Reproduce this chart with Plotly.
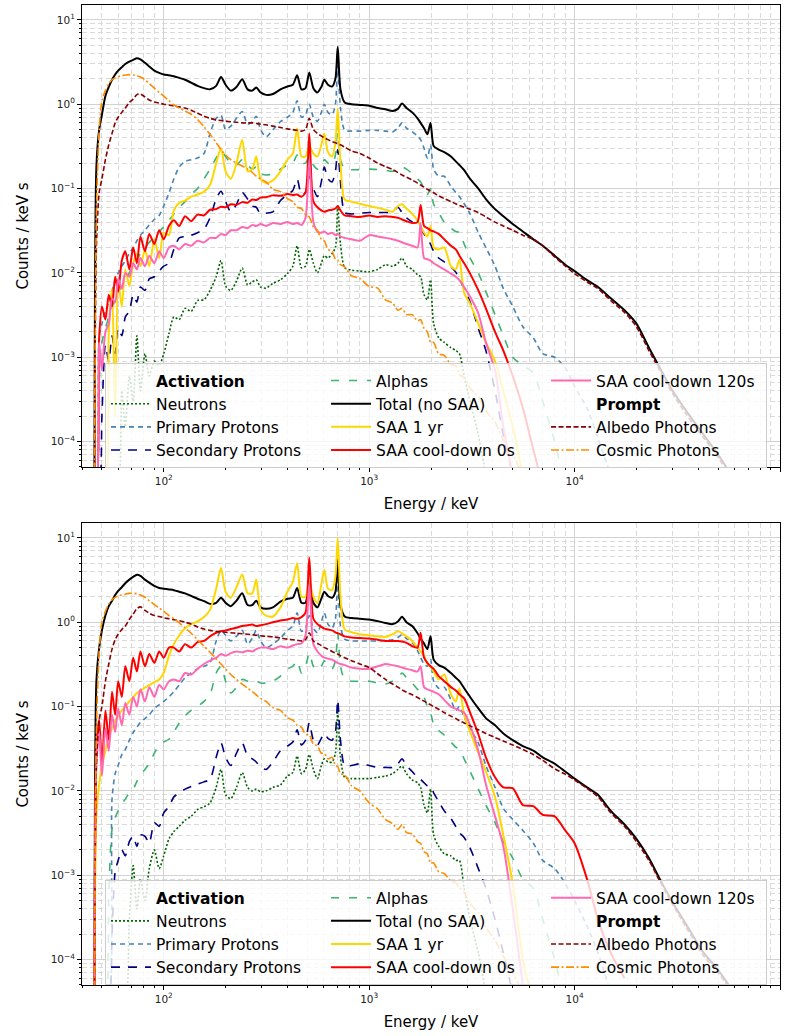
import math
import plotly.graph_objects as go

# ---------------------------------------------------------------------------
# Shared energy grid (keV)
# ---------------------------------------------------------------------------
energy_kev = [
    46, 47, 48.5, 50, 52, 54, 56, 58, 60, 62.5,
    65, 68, 71, 74, 77, 81, 85, 90, 95, 100,
    106, 112, 119, 127, 136, 146, 157, 168, 180, 190,
    200, 212, 226, 241, 256, 270, 282, 296, 315, 340,
    370, 400, 425, 446, 468, 490, 511, 535, 560, 585,
    605, 630, 660, 685, 703, 725, 760, 820, 900, 1000,
    1100, 1200, 1300, 1380, 1445, 1520, 1620, 1720, 1780, 1850,
    1920, 1990, 2060, 2180, 2320, 2500, 2640, 2750, 2900, 3100,
    3400, 3700, 4100, 4500, 5000, 5600, 6300, 7000, 8000, 9000,
    10000, 11500, 13000, 15000, 17500, 20000, 23000, 26000, 30000, 35000,
    42000, 50000, 60000, 70000,
]

# ---------------------------------------------------------------------------
# Upper panel spectra (counts / keV s)
# ---------------------------------------------------------------------------
top_total = [
    3e-5, 0.18, 0.5, 0.75, 1.25, 1.6, 1.95, 2.25, 2.5, 2.75,
    3.0, 3.2, 3.35, 3.5, 3.4, 3.1, 2.8, 2.5, 2.35, 2.25,
    2.2, 2.15, 2.05, 1.95, 1.8, 1.65, 1.55, 1.5, 1.65, 2.1,
    1.7, 1.45, 1.6, 1.98, 1.5, 1.45, 1.58, 1.38, 1.29, 1.32,
    1.5, 1.62, 1.7, 2.2, 1.5, 1.55, 2.38, 1.55, 1.38, 1.6,
    1.95, 1.7, 1.62, 2.0, 4.8, 1.5, 1.05, 1.0, 0.98, 0.96,
    0.9, 0.87, 0.83, 0.88, 1.02, 0.9, 0.8, 0.68, 0.6, 0.52,
    0.44, 0.6, 0.32, 0.29, 0.27, 0.24, 0.21, 0.19, 0.165, 0.13,
    0.1, 0.075, 0.057, 0.047, 0.038, 0.031, 0.025, 0.021, 0.016, 0.0125,
    0.0105, 0.0082, 0.0068, 0.005, 0.0036, 0.0025, 0.0013, 7.5e-4, 4e-4, 2.3e-4,
    1.25e-4, 7e-5, 3.5e-5,
]
top_albedo = [
    3e-5, 0.02, 0.09, 0.13, 0.22, 0.33, 0.45, 0.6, 0.7, 0.8,
    0.9, 1.05, 1.15, 1.3, 1.32, 1.22, 1.12, 1.06, 1.03, 1.0,
    0.98, 0.95, 0.93, 0.9, 0.85, 0.78, 0.72, 0.68, 0.65, 0.64,
    0.63, 0.62, 0.61, 0.6, 0.6, 0.6, 0.59, 0.58, 0.57, 0.55,
    0.53, 0.51, 0.5, 0.49, 0.48, 0.5, 0.68, 0.5, 0.45, 0.42,
    0.4, 0.38, 0.36, 0.35, 0.34, 0.33, 0.31, 0.28, 0.26, 0.23,
    0.2, 0.182, 0.168, 0.155, 0.145, 0.136, 0.126, 0.116, 0.11, 0.104,
    0.098, 0.093, 0.089, 0.082, 0.076, 0.07, 0.066, 0.063, 0.06, 0.057,
    0.052, 0.046, 0.04, 0.036, 0.032, 0.028, 0.025, 0.021, 0.0155, 0.0121,
    0.0098, 0.0078, 0.0065, 0.0047, 0.0034, 0.0023, 0.0012, 7e-4, 3.7e-4, 2.1e-4,
    1.15e-4, 6.5e-5, 3.2e-5,
]
top_cosmic = [
    3e-5, 0.05, 0.5, 1.1, 1.45, 1.75, 1.95, 2.05, 2.12, 2.18,
    2.22, 2.24, 2.22, 2.18, 2.1, 1.95, 1.75, 1.55, 1.38, 1.25,
    1.1, 0.98, 0.9, 0.83, 0.76, 0.66, 0.54, 0.44, 0.35, 0.29,
    0.25, 0.22, 0.2, 0.185, 0.17, 0.155, 0.14, 0.13, 0.12, 0.098,
    0.092, 0.076, 0.07, 0.06, 0.058, 0.049, 0.046, 0.035, 0.032, 0.025,
    0.024, 0.019, 0.018, 0.0145, 0.0142, 0.0125, 0.0118, 0.0092, 0.0086, 0.0069,
    0.0066, 0.0048, 0.0044, 0.0036, 0.0038, 0.0032, 0.0032, 0.0027, 0.0028, 0.0022,
    0.002, 0.0015, 0.0015, 0.0011, 0.00105, 8.2e-4, 7.9e-4, 6.2e-4, 5.7e-4, 4.3e-4,
    3.4e-4, 2.3e-4, 1.7e-4, 1.05e-4, 7e-5, 4e-5,
]
top_primary = [
    3e-5, 3e-5, 0.0018, 0.0025, 0.0035, 0.0045, 0.006, 0.0083, 0.01, 0.012,
    0.014, 0.017, 0.02, 0.024, 0.028, 0.032, 0.037, 0.043, 0.048, 0.062,
    0.088, 0.13, 0.18, 0.21, 0.22, 0.23, 0.26, 0.45, 0.68, 0.74,
    0.5, 0.55, 0.68, 0.82, 0.58, 0.62, 0.72, 0.5, 0.41, 0.5,
    0.62, 0.7, 0.8, 1.1, 0.7, 0.75, 1.0, 0.7, 0.63, 0.8,
    1.0, 0.8, 0.75, 1.0, 2.9, 0.9, 0.49, 0.48, 0.48, 0.49,
    0.49, 0.48, 0.47, 0.52, 0.6, 0.52, 0.47, 0.42, 0.38, 0.3,
    0.23, 0.33, 0.17, 0.14, 0.14, 0.106, 0.09, 0.08, 0.066, 0.05,
    0.03, 0.02, 0.012, 0.0065, 0.004, 0.0023, 0.0017, 0.0011, 0.001, 7.5e-4,
    4.5e-4, 2.5e-4, 1.1e-4, 4e-5,
]
top_alphas = [
    3e-5, 3e-5, 5e-4, 0.0015, 0.0022, 0.003, 0.0038, 0.0048, 0.0058, 0.007,
    0.0082, 0.01, 0.012, 0.014, 0.017, 0.02, 0.023, 0.027, 0.031, 0.035,
    0.042, 0.05, 0.06, 0.07, 0.085, 0.1, 0.13, 0.17, 0.23, 0.28,
    0.24, 0.2, 0.19, 0.22, 0.19, 0.17, 0.18, 0.15, 0.145, 0.15,
    0.17, 0.19, 0.2, 0.25, 0.2, 0.2, 0.24, 0.19, 0.17, 0.18,
    0.22, 0.2, 0.19, 0.25, 0.6, 0.22, 0.17, 0.167, 0.168, 0.17,
    0.168, 0.165, 0.16, 0.17, 0.18, 0.17, 0.15, 0.13, 0.12, 0.1,
    0.085, 0.1, 0.065, 0.052, 0.04, 0.034, 0.031, 0.03, 0.022, 0.015,
    0.01, 0.006, 0.0032, 0.0018, 0.001, 8e-4, 6.5e-4, 3e-4, 1e-4, 3e-5,
]
top_secondary = [
    3e-5, 3e-5, 3e-5, 2e-4, 0.0014, 0.0009, 0.0018, 0.0011, 0.0022, 0.0018,
    0.003, 0.0035, 0.0055, 0.0045, 0.0068, 0.0062, 0.0085, 0.009, 0.0105, 0.012,
    0.013, 0.019, 0.026, 0.027, 0.028, 0.03, 0.033, 0.045, 0.075, 0.093,
    0.07, 0.053, 0.065, 0.09, 0.075, 0.062, 0.06, 0.05, 0.051, 0.053,
    0.072, 0.085, 0.095, 0.13, 0.085, 0.09, 0.14, 0.1, 0.08, 0.12,
    0.18, 0.13, 0.12, 0.16, 0.29, 0.12, 0.052, 0.05, 0.051, 0.052,
    0.052, 0.052, 0.053, 0.06, 0.052, 0.045, 0.04, 0.035, 0.032, 0.029,
    0.025, 0.022, 0.018, 0.015, 0.0135, 0.0118, 0.0102, 0.0085, 0.0065, 0.0045,
    0.0022, 0.0012, 4e-4, 1.2e-4, 4e-5,
]
top_neutrons = [
    3e-5, 3e-5, 3e-5, 3e-5, 3e-5, 3e-5, 3e-5, 3e-5, 3e-5, 4e-4,
    1.5e-4, 6e-4, 3e-4, 0.0018, 4e-4, 0.0011, 0.0006, 0.0009, 0.0008, 0.0011,
    0.0019, 0.003, 0.0028, 0.0038, 0.0035, 0.0047, 0.0048, 0.0062, 0.009, 0.014,
    0.007, 0.0062, 0.008, 0.0114, 0.0072, 0.0078, 0.0083, 0.0068, 0.0066, 0.0075,
    0.0083, 0.0098, 0.012, 0.021, 0.0115, 0.012, 0.019, 0.013, 0.01, 0.013,
    0.016, 0.015, 0.017, 0.02, 0.062, 0.022, 0.0115, 0.0108, 0.0105, 0.0103,
    0.011, 0.0125, 0.012, 0.013, 0.015, 0.012, 0.011, 0.0095, 0.009, 0.0055,
    0.0048, 0.0083, 0.0025, 0.0017, 0.0015, 0.0013, 0.0012, 0.0011, 6e-4, 3e-4,
    1.2e-4, 4e-5,
]
top_saa_1yr = [
    3e-5, 3e-5, 3e-5, 3e-5, 3e-5, 0.002, 0.0065, 2e-4, 0.008, 0.004,
    0.011, 0.007, 0.013, 0.017, 0.012, 0.019, 0.012, 0.025, 0.015, 0.03,
    0.028, 0.055, 0.068, 0.072, 0.08, 0.085, 0.092, 0.11, 0.2, 0.3,
    0.16, 0.13, 0.2, 0.38, 0.16, 0.17, 0.24, 0.13, 0.116, 0.125,
    0.16, 0.22, 0.26, 0.52, 0.24, 0.24, 0.32, 0.26, 0.24, 0.33,
    0.45, 0.27, 0.24, 0.35, 0.89, 0.2, 0.074, 0.07, 0.066, 0.062,
    0.059, 0.056, 0.053, 0.062, 0.065, 0.058, 0.05, 0.042, 0.036, 0.03,
    0.027, 0.036, 0.02, 0.019, 0.02, 0.012, 0.011, 0.0143, 0.0058, 0.0043,
    0.0025, 0.0015, 9e-4, 4e-4, 1.5e-4, 4e-5,
]
top_saa_0s = [
    3e-5, 3e-5, 0.0017, 0.004, 0.0028, 0.0055, 0.004, 0.009, 0.006, 0.014,
    0.018, 0.011, 0.02, 0.013, 0.027, 0.018, 0.029, 0.022, 0.032, 0.025,
    0.036, 0.042, 0.036, 0.047, 0.041, 0.049, 0.048, 0.056, 0.057, 0.061,
    0.06, 0.065, 0.064, 0.069, 0.068, 0.074, 0.073, 0.078, 0.079, 0.083,
    0.082, 0.086, 0.084, 0.085, 0.08, 0.09, 0.45, 0.07, 0.06, 0.055,
    0.053, 0.055, 0.056, 0.058, 0.062, 0.055, 0.048, 0.047, 0.046, 0.048,
    0.046, 0.047, 0.046, 0.045, 0.043, 0.041, 0.039, 0.04, 0.064, 0.036,
    0.034, 0.032, 0.031, 0.029, 0.025, 0.021, 0.019, 0.016, 0.013, 0.0098,
    0.0062, 0.0038, 0.002, 0.0012, 6e-4, 2.5e-4, 8e-5, 3e-5,
]
top_saa_120s = [
    3e-5, 3e-5, 0.0015, 0.0007, 0.002, 0.0025, 0.005, 0.0045, 0.0085, 0.0065,
    0.01, 0.009, 0.013, 0.011, 0.015, 0.012, 0.016, 0.013, 0.018, 0.015,
    0.02, 0.021, 0.019, 0.022, 0.021, 0.024, 0.023, 0.026, 0.026, 0.029,
    0.028, 0.032, 0.032, 0.035, 0.034, 0.037, 0.036, 0.038, 0.036, 0.039,
    0.038, 0.04, 0.038, 0.039, 0.037, 0.045, 0.22, 0.04, 0.031, 0.03,
    0.031, 0.029, 0.03, 0.028, 0.029, 0.027, 0.026, 0.025, 0.024, 0.028,
    0.027, 0.026, 0.025, 0.024, 0.023, 0.022, 0.021, 0.02, 0.039, 0.015,
    0.0145, 0.014, 0.013, 0.012, 0.011, 0.0098, 0.009, 0.0082, 0.0068, 0.0052,
    0.0033, 0.0015, 7e-4, 1.5e-4, 4e-5,
]

# ---------------------------------------------------------------------------
# Lower panel spectra (counts / keV s)
# ---------------------------------------------------------------------------
bot_total = [
    3e-5, 0.2, 0.5, 0.8, 1.2, 1.55, 1.8, 2.1, 2.35, 2.6,
    2.9, 3.2, 3.45, 3.65, 3.55, 3.2, 2.95, 2.7, 2.55, 2.5,
    2.45, 2.4, 2.3, 2.2, 2.05, 1.9, 1.78, 1.65, 1.7, 1.95,
    1.7, 1.55, 1.8, 2.2, 1.6, 1.6, 1.8, 1.5, 1.44, 1.5,
    1.75, 1.9, 1.95, 2.55, 1.7, 1.7, 2.65, 1.7, 1.5, 1.9,
    2.3, 2.05, 1.95, 2.3, 5.5, 1.6, 1.17, 1.12, 1.1, 1.08,
    1.03, 0.98, 0.95, 1.02, 1.16, 1.0, 0.9, 0.74, 0.64, 0.56,
    0.48, 0.68, 0.36, 0.31, 0.29, 0.25, 0.22, 0.2, 0.165, 0.13,
    0.095, 0.073, 0.06, 0.048, 0.04, 0.034, 0.03, 0.025, 0.021, 0.017,
    0.014, 0.011, 0.009, 0.0058, 0.004, 0.0027, 0.0016, 9e-4, 4.8e-4, 2.6e-4,
    1.25e-4, 7.5e-5, 4e-5,
]
bot_albedo = [
    3e-5, 0.02, 0.07, 0.1, 0.2, 0.32, 0.48, 0.62, 0.72, 0.82,
    0.9, 1.08, 1.25, 1.45, 1.52, 1.38, 1.28, 1.2, 1.17, 1.13,
    1.1, 1.07, 1.04, 1.0, 0.95, 0.88, 0.83, 0.8, 0.78, 0.77,
    0.76, 0.75, 0.74, 0.73, 0.72, 0.71, 0.7, 0.69, 0.68, 0.67,
    0.65, 0.63, 0.62, 0.61, 0.6, 0.62, 0.75, 0.6, 0.56, 0.53,
    0.5, 0.48, 0.45, 0.43, 0.42, 0.4, 0.38, 0.35, 0.32, 0.29,
    0.245, 0.21, 0.185, 0.17, 0.158, 0.148, 0.138, 0.128, 0.122, 0.116,
    0.11, 0.105, 0.1, 0.093, 0.085, 0.077, 0.072, 0.068, 0.064, 0.059,
    0.053, 0.048, 0.043, 0.039, 0.035, 0.031, 0.027, 0.023, 0.0183, 0.0158,
    0.0135, 0.0107, 0.0085, 0.0055, 0.0038, 0.0025, 0.0015, 8.5e-4, 4.5e-4, 2.4e-4,
    1.15e-4, 7e-5, 3.7e-5,
]
bot_cosmic = [
    3e-5, 0.05, 0.45, 1.0, 1.35, 1.65, 1.85, 1.97, 2.05, 2.1,
    2.15, 2.2, 2.2, 2.18, 2.1, 1.98, 1.8, 1.62, 1.48, 1.35,
    1.2, 1.1, 0.98, 0.86, 0.74, 0.62, 0.52, 0.44, 0.37, 0.32,
    0.28, 0.24, 0.21, 0.185, 0.165, 0.15, 0.138, 0.125, 0.115, 0.097,
    0.09, 0.074, 0.069, 0.06, 0.057, 0.047, 0.046, 0.036, 0.034, 0.028,
    0.028, 0.024, 0.025, 0.02, 0.0195, 0.016, 0.0155, 0.0115, 0.01, 0.0072,
    0.0061, 0.0046, 0.0041, 0.0035, 0.004, 0.0032, 0.0031, 0.0025, 0.0024, 0.0019,
    0.0018, 0.0014, 0.0014, 0.0011, 0.00105, 8.5e-4, 8.2e-4, 7.2e-4, 6.2e-4, 4.6e-4,
    3.6e-4, 2.4e-4, 1.7e-4, 1.1e-4, 7e-5, 4e-5,
]
bot_primary = [
    3e-5, 3e-5, 3e-5, 3e-5, 3e-5, 3e-5, 0.008, 0.016, 0.02, 0.027,
    0.031, 0.04, 0.049, 0.057, 0.065, 0.072, 0.08, 0.095, 0.105, 0.115,
    0.13, 0.15, 0.18, 0.22, 0.25, 0.28, 0.3, 0.33, 0.6, 0.8,
    0.7, 0.6, 0.68, 0.8, 0.55, 0.65, 0.8, 0.6, 0.5, 0.55,
    0.65, 0.8, 0.9, 1.29, 0.78, 0.85, 1.2, 0.85, 0.75, 1.0,
    1.29, 0.95, 0.85, 1.1, 3.2, 0.9, 0.63, 0.6, 0.6, 0.6,
    0.6, 0.61, 0.62, 0.66, 0.71, 0.64, 0.57, 0.46, 0.38, 0.32,
    0.3, 0.36, 0.2, 0.165, 0.17, 0.12, 0.09, 0.1, 0.075, 0.055,
    0.037, 0.02, 0.011, 0.0062, 0.0046, 0.0034, 0.0024, 0.0015, 0.0012, 8e-4,
    5e-4, 2.5e-4, 1.2e-4, 4e-5,
]
bot_alphas = [
    3e-5, 3e-5, 3e-5, 3e-5, 3e-5, 6e-4, 0.0035, 0.0048, 0.0058, 0.007,
    0.008, 0.0095, 0.0105, 0.013, 0.0155, 0.018, 0.021, 0.028, 0.035, 0.038,
    0.041, 0.05, 0.064, 0.078, 0.09, 0.1, 0.115, 0.14, 0.25, 0.3,
    0.2, 0.145, 0.17, 0.21, 0.2, 0.19, 0.2, 0.19, 0.19, 0.2,
    0.23, 0.28, 0.3, 0.35, 0.25, 0.3, 0.43, 0.3, 0.27, 0.3,
    0.35, 0.3, 0.28, 0.35, 0.75, 0.3, 0.21, 0.2, 0.2, 0.2,
    0.19, 0.185, 0.2, 0.22, 0.25, 0.22, 0.19, 0.16, 0.15, 0.13,
    0.1, 0.085, 0.061, 0.052, 0.046, 0.038, 0.033, 0.031, 0.024, 0.017,
    0.0105, 0.0068, 0.0042, 0.0025, 0.0016, 9e-4, 7e-4, 3e-4, 1e-4, 3e-5,
]
bot_secondary = [
    3e-5, 3e-5, 3e-5, 3e-5, 3e-5, 3e-5, 2e-4, 0.0011, 0.0015, 0.002,
    0.0017, 0.0025, 0.0029, 0.0022, 0.003, 0.0029, 0.0024, 0.0042, 0.0038, 0.0055,
    0.0065, 0.0085, 0.0095, 0.0105, 0.0113, 0.012, 0.0128, 0.0137, 0.025, 0.037,
    0.025, 0.02, 0.028, 0.037, 0.026, 0.024, 0.022, 0.019, 0.018, 0.022,
    0.03, 0.034, 0.038, 0.053, 0.035, 0.04, 0.064, 0.04, 0.035, 0.042,
    0.048, 0.042, 0.04, 0.05, 0.12, 0.04, 0.02, 0.02, 0.021, 0.02,
    0.019, 0.019, 0.019, 0.021, 0.024, 0.02, 0.017, 0.0145, 0.0137, 0.0125,
    0.0115, 0.0113, 0.0095, 0.0075, 0.0058, 0.0047, 0.0038, 0.0032, 0.0028, 0.0021,
    0.0012, 7e-4, 3e-4, 1.2e-4, 4e-5,
]
bot_neutrons = [
    3e-5, 3e-5, 3e-5, 3e-5, 3e-5, 3e-5, 3e-5, 3e-5, 3e-5, 3e-5,
    3e-5, 3e-4, 0.0013, 4e-4, 9e-4, 5e-4, 0.0012, 0.002, 0.0012, 0.0017,
    0.0027, 0.0033, 0.0038, 0.0045, 0.005, 0.006, 0.0065, 0.0072, 0.011, 0.018,
    0.009, 0.0081, 0.011, 0.0165, 0.011, 0.01, 0.0105, 0.0098, 0.01, 0.011,
    0.0118, 0.015, 0.0165, 0.026, 0.016, 0.018, 0.027, 0.018, 0.014, 0.02,
    0.024, 0.022, 0.022, 0.028, 0.085, 0.025, 0.0145, 0.014, 0.014, 0.014,
    0.0145, 0.015, 0.016, 0.018, 0.0197, 0.016, 0.0135, 0.0125, 0.011, 0.0068,
    0.0055, 0.0105, 0.003, 0.0022, 0.0018, 0.0017, 0.0015, 0.0015, 7e-4, 3e-4,
    1.2e-4, 4e-5,
]
bot_saa_1yr = [
    3e-5, 0.005, 0.012, 0.02, 0.03, 0.045, 0.055, 0.068, 0.078, 0.09,
    0.1, 0.115, 0.13, 0.145, 0.155, 0.168, 0.18, 0.195, 0.21, 0.25,
    0.4, 0.55, 0.7, 0.85, 0.95, 1.02, 1.15, 1.4, 2.5, 4.4,
    2.3, 1.95, 2.6, 3.67, 2.2, 2.2, 3.2, 1.4, 1.2, 1.17,
    1.5, 2.3, 3.0, 5.0, 2.0, 2.0, 3.0, 2.0, 1.7, 2.8,
    4.2, 2.5, 2.4, 3.5, 10.0, 2.0, 0.82, 0.76, 0.72, 0.7,
    0.68, 0.67, 0.72, 0.78, 0.74, 0.68, 0.6, 0.5, 0.45, 0.4,
    0.32, 0.3, 0.26, 0.21, 0.24, 0.14, 0.115, 0.165, 0.08, 0.05,
    0.028, 0.017, 0.0085, 0.003, 8e-4, 1e-4, 3e-5,
]
bot_saa_0s = [
    3e-5, 0.03, 0.07, 0.02, 0.09, 0.04, 0.15, 0.08, 0.2, 0.13,
    0.3, 0.2, 0.38, 0.26, 0.45, 0.3, 0.42, 0.33, 0.45, 0.38,
    0.5, 0.5, 0.45, 0.55, 0.5, 0.58, 0.6, 0.68, 0.75, 0.78,
    0.8, 0.83, 0.86, 0.9, 0.92, 0.94, 0.9, 0.92, 0.95, 1.0,
    1.05, 1.08, 1.12, 1.1, 1.15, 1.3, 5.8, 1.1, 0.95, 0.88,
    0.84, 0.82, 0.8, 0.76, 0.74, 0.72, 0.68, 0.66, 0.65, 0.64,
    0.62, 0.6, 0.6, 0.6, 0.59, 0.57, 0.52, 0.5, 0.75, 0.38,
    0.33, 0.3, 0.28, 0.23, 0.2, 0.17, 0.155, 0.14, 0.125, 0.085,
    0.047, 0.025, 0.0145, 0.011, 0.0108, 0.0068, 0.0066, 0.0052, 0.005, 0.0034,
    0.0024, 9e-4, 3e-4, 1.2e-4, 6e-5,
]
bot_saa_120s = [
    3e-5, 0.02, 0.05, 0.015, 0.055, 0.03, 0.08, 0.05, 0.095, 0.06,
    0.11, 0.08, 0.13, 0.1, 0.16, 0.115, 0.17, 0.13, 0.18, 0.16,
    0.2, 0.21, 0.2, 0.25, 0.24, 0.28, 0.32, 0.35, 0.38, 0.42,
    0.4, 0.43, 0.45, 0.44, 0.46, 0.45, 0.48, 0.5, 0.5, 0.48,
    0.52, 0.5, 0.53, 0.55, 0.56, 0.7, 2.8, 0.55, 0.45, 0.4,
    0.38, 0.37, 0.36, 0.34, 0.33, 0.32, 0.31, 0.29, 0.28, 0.28,
    0.3, 0.32, 0.31, 0.3, 0.29, 0.28, 0.27, 0.26, 0.3, 0.17,
    0.16, 0.155, 0.15, 0.14, 0.12, 0.1, 0.094, 0.09, 0.085, 0.06,
    0.03, 0.012, 0.005, 0.0022, 4e-4, 5e-5,
]

# ---------------------------------------------------------------------------
# Styling
# ---------------------------------------------------------------------------
FONT = "DejaVu Sans"

# key: (legend label, colour, width, dash, legend rank)
styles = {
    "neutrons":  ("Neutrons",           "#006400", 1.6, "2px,2px",             4),
    "primary":   ("Primary Protons",    "#4682b4", 1.6, "5px,4px",             7),
    "secondary": ("Secondary Protons",  "#000080", 1.6, "9px,8px",             10),
    "alphas":    ("Alphas",             "#3cb371", 1.6, "8px,10px",            2),
    "total":     ("Total (no SAA)",     "#000000", 2.0, "solid",               5),
    "saa_1yr":   ("SAA 1 yr",           "#ffd700", 2.0, "solid",               8),
    "saa_0s":    ("SAA cool-down 0s",   "#ff0000", 2.0, "solid",               11),
    "saa_120s":  ("SAA cool-down 120s", "#ff69b4", 2.0, "solid",               3),
    "albedo":    ("Albedo Photons",     "#8b0000", 1.6, "5px,2.5px",           9),
    "cosmic":    ("Cosmic Photons",     "#ff8c00", 1.6, "8px,2.5px,2px,2.5px", 12),
}
headers = [("<b>Activation</b>", 1), ("<b>Prompt</b>", 6)]

panels = [
    (dict(neutrons=top_neutrons, primary=top_primary, secondary=top_secondary,
          alphas=top_alphas, total=top_total, saa_1yr=top_saa_1yr,
          saa_0s=top_saa_0s, saa_120s=top_saa_120s, albedo=top_albedo,
          cosmic=top_cosmic), "x", "y", "legend"),
    (dict(neutrons=bot_neutrons, primary=bot_primary, secondary=bot_secondary,
          alphas=bot_alphas, total=bot_total, saa_1yr=bot_saa_1yr,
          saa_0s=bot_saa_0s, saa_120s=bot_saa_120s, albedo=bot_albedo,
          cosmic=bot_cosmic), "x2", "y2", "legend2"),
]

fig = go.Figure()
for spectra, xa, ya, leg in panels:
    for text, rank in headers:
        fig.add_trace(go.Scatter(
            x=[None], y=[None], mode="lines", name=text,
            line=dict(color="rgba(0,0,0,0)", width=1),
            xaxis=xa, yaxis=ya, legend=leg, legendrank=rank,
            showlegend=True, hoverinfo="skip"))
    for key, vals in spectra.items():
        label, color, width, dash, rank = styles[key]
        fig.add_trace(go.Scatter(
            x=energy_kev[:len(vals)], y=vals, mode="lines", name=label,
            line=dict(color=color, width=width, dash=dash,
                      shape="spline", smoothing=0.7),
            xaxis=xa, yaxis=ya, legend=leg, legendrank=rank))

x_major = [1e2, 1e3, 1e4, 1e5]
x_major_text = ["10<sup>2</sup>", "10<sup>3</sup>", "10<sup>4</sup>", "10<sup>5</sup>"]
y_major = [1e-4, 1e-3, 1e-2, 1e-1, 1, 10]
y_major_text = ["10<sup>\u22124</sup>", "10<sup>\u22123</sup>", "10<sup>\u22122</sup>",
                "10<sup>\u22121</sup>", "10<sup>0</sup>", "10<sup>1</sup>"]
x_minor = [m * 10 ** k for k in range(1, 5) for m in range(2, 10)]
y_minor = [m * 10.0 ** k for k in range(-5, 2) for m in range(2, 10)]


def axis(major, major_text, minor, rng, title, standoff, **extra):
    return dict(
        type="log", range=rng, tickmode="array", tickvals=major, ticktext=major_text,
        showline=True, linecolor="black", linewidth=1, mirror=True,
        ticks="outside", ticklen=4, tickwidth=1, tickcolor="black",
        tickfont=dict(family=FONT, size=10.5, color="#222222"),
        showgrid=True, gridcolor="#d2d2d2", gridwidth=1, zeroline=False,
        minor=dict(tickmode="array", tickvals=minor, ticks="outside", ticklen=2,
                   tickcolor="black", tickwidth=0.8, showgrid=True,
                   gridcolor="#dadada", griddash="5px,3px", gridwidth=1),
        title=dict(text=title, font=dict(family=FONT, size=15, color="black"),
                   standoff=standoff),
        automargin=False, **extra)


x_rng = [math.log10(40), 5]
y_rng = [math.log10(5e-5), math.log10(15)]

legend_style = dict(
    orientation="h", entrywidth=165, entrywidthmode="pixels", itemwidth=40,
    bgcolor="rgba(255,255,255,0.8)", bordercolor="#cccccc", borderwidth=1,
    font=dict(family=FONT, size=15.5, color="black"),
    xanchor="left", yanchor="top", traceorder="normal")

fig.update_layout(
    width=786, height=1036,
    margin=dict(l=82, r=6, t=5, b=51),
    paper_bgcolor="white", plot_bgcolor="white",
    font=dict(family=FONT, color="black"),
    xaxis=axis(x_major, x_major_text, x_minor, x_rng, "Energy / keV", 12, anchor="y"),
    yaxis=axis(y_major, y_major_text, y_minor, y_rng, "Counts / keV s", 18,
               anchor="x", domain=[0.5286, 1.0]),
    xaxis2=axis(x_major, x_major_text, x_minor, x_rng, "Energy / keV", 12, anchor="y2"),
    yaxis2=axis(y_major, y_major_text, y_minor, y_rng, "Counts / keV s", 18,
                anchor="x2", domain=[0.0, 0.4714]),
    legend=dict(x=0.033, y=0.6347, **legend_style),
    legend2=dict(x=0.033, y=0.107, **legend_style),
    showlegend=True,
)

fig.write_html("out.html")
